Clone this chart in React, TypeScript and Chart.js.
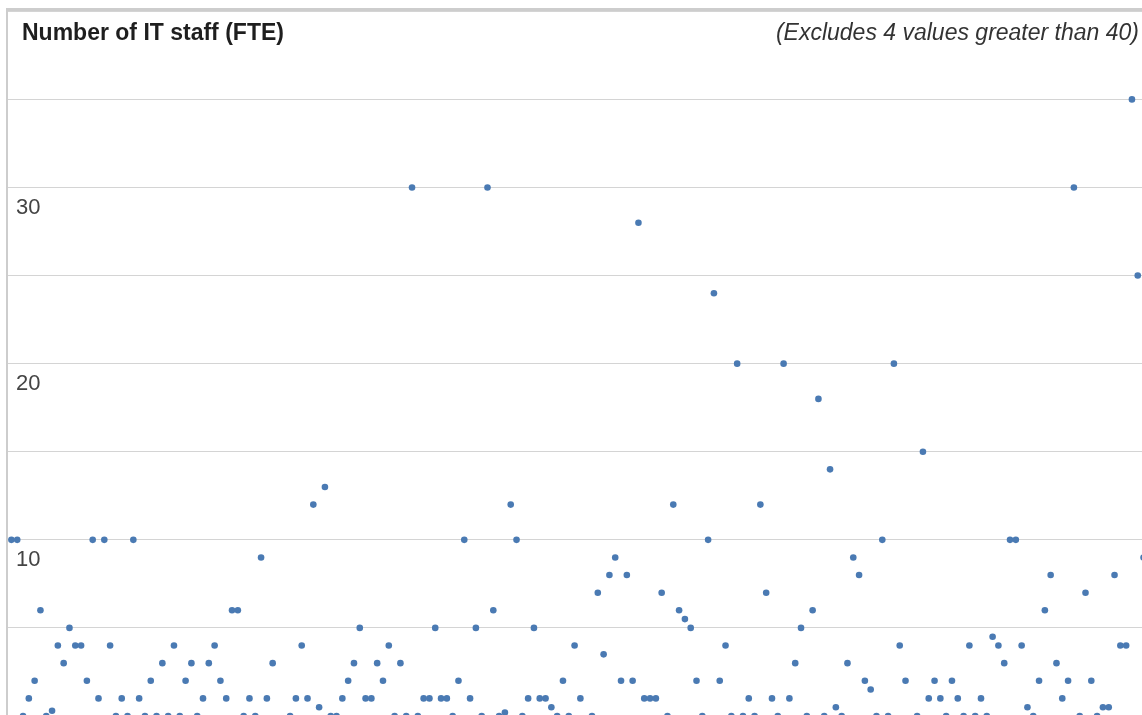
import React, { useEffect, useRef } from "react";
import { Chart, registerables } from "chart.js";

Chart.register(...registerables);

const TITLE = "Number of IT staff (FTE)";
const NOTE = "(Excludes 4 values greater than 40)";

const Y_MIN = 0;
const Y_MAX = 40;
const Y_STEP = 5;
const Y_LABELS = [10, 20, 30];

// One value per respondent, in order; null = excluded (> 40)
const STAFF_FTE: (number | null)[] = [
  10, 10, 0, 1, 2, 6, 0, 0.3, 4, 3,
  5, 4, 4, 2, 10, 1, 10, 4, 0, 1,
  0, 10, 1, 0, 2, 0, 3, 0, 4, 0,
  2, 3, 0, 1, 3, 4, 2, 1, 6, 6,
  0, 1, 0, 9, 1, 3, null, null, 0, 1,
  4, 1, 12, 0.5, 13, 0, 0, 1, 2, 3,
  5, 1, 1, 3, 2, 4, 0, 3, 0, 30,
  0, 1, 1, 5, 1, 1, 0, 2, 10, 1,
  5, 0, 30, 6, 0, 0.2, 12, 10, 0, 1,
  5, 1, 1, 0.5, 0, 2, 0, 4, 1, null,
  0, 7, 3.5, 8, 9, 2, 8, 2, 28, 1,
  1, 1, 7, 0, 12, 6, 5.5, 5, 2, 0,
  10, 24, 2, 4, 0, 20, 0, 1, 0, 12,
  7, 1, 0, 20, 1, 3, 5, 0, 6, 18,
  0, 14, 0.5, 0, 3, 9, 8, 2, 1.5, 0,
  10, 0, 20, 4, 2, null, 0, 15, 1, 2,
  1, 0, 2, 1, 0, 4, 0, 1, 0, 4.5,
  4, 3, 10, 10, 4, 0.5, 0, 2, 6, 8,
  3, 1, 2, 30, 0, 7, 2, 0, 0.5, 0.5,
  8, 4, 4, 35, 25, 9,
];

const FONT = '"Liberation Sans", Arial, Helvetica, sans-serif';

export default function App() {
  const ref = useRef<HTMLCanvasElement>(null);

  useEffect(() => {
    const points = STAFF_FTE.map((v, i) => (v === null ? null : { x: i, y: v })).filter(
      (p) => p !== null
    ) as { x: number; y: number }[];

    const chart = new Chart(ref.current as HTMLCanvasElement, {
      type: "scatter",
      data: {
        datasets: [
          {
            data: points,
            backgroundColor: "#4a7ab3",
            borderWidth: 0,
            pointRadius: 3.3,
            pointHoverRadius: 3.3,
            clip: false as any,
          },
        ],
      },
      options: {
        animation: false,
        responsive: false,
        devicePixelRatio: 1,
        events: [],
        layout: { padding: { left: 7, top: 11.3, right: 5, bottom: 14 } },
        plugins: {
          legend: { display: false },
          tooltip: { enabled: false },
          title: { display: false },
        },
        scales: {
          x: { type: "linear", display: false, min: -0.76, max: 196.97 },
          y: {
            type: "linear",
            min: Y_MIN,
            max: Y_MAX,
            afterFit: (s: any) => {
              s.width = 0;
              s.paddingTop = 0;
              s.paddingBottom = 0;
            },
            border: { display: false },
            grid: { color: "#d4d4d4", lineWidth: 1, drawTicks: false },
            ticks: {
              stepSize: Y_STEP,
              autoSkip: false,
              mirror: true,
              padding: 9,
              labelOffset: 20,
              color: "#444444",
              font: { family: FONT, size: 22 },
              callback: (v: any) => (Y_LABELS.includes(Number(v)) ? String(v) : ""),
            },
          },
        },
      },
    });
    return () => chart.destroy();
  }, []);

  return (
    <div
      style={{
        position: "fixed",
        left: 0,
        top: 0,
        width: 1142,
        height: 715,
        overflow: "hidden",
        background: "#ffffff",
      }}
    >
      <canvas
        ref={ref}
        width={1160}
        height={730}
        style={{ position: "absolute", left: 0, top: 0, width: 1160, height: 730, display: "block" }}
      />
      <div
        style={{
          position: "absolute",
          left: 6,
          top: 8,
          width: 1200,
          height: 800,
          borderTop: "3px solid #cdcdcd",
          borderLeft: "2px solid #cdcdcd",
          pointerEvents: "none",
        }}
      />
      <div
        style={{
          position: "absolute",
          left: 22,
          top: 21,
          font: `bold 23px ${FONT}`,
          lineHeight: "23px",
          color: "#1e1e1e",
          whiteSpace: "nowrap",
        }}
      >
        {TITLE}
      </div>
      <div
        style={{
          position: "absolute",
          right: 3,
          top: 21,
          font: `italic 23px ${FONT}`,
          lineHeight: "23px",
          color: "#333333",
          whiteSpace: "nowrap",
        }}
      >
        {NOTE}
      </div>
    </div>
  );
}
